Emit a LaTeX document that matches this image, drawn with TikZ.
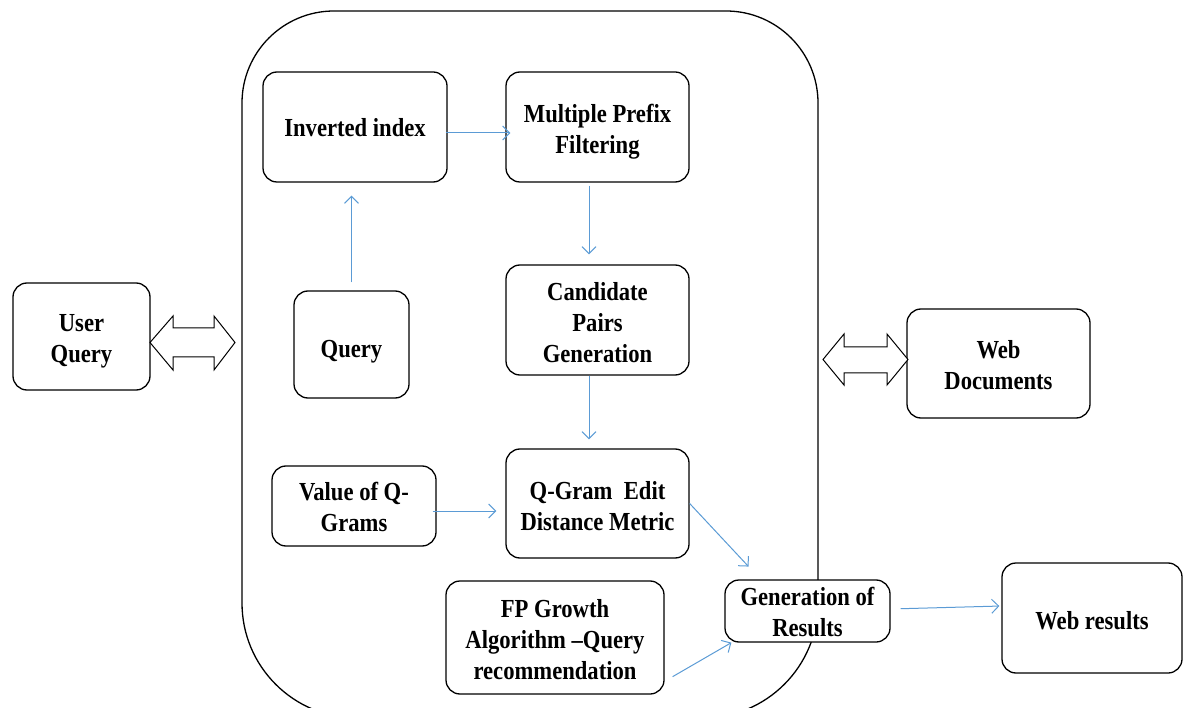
\documentclass[tikz,border=0pt]{standalone}
\usepackage{fontspec}
\setmainfont{Liberation Serif}[FakeStretch=0.87]
\usetikzlibrary{arrows.meta}
\definecolor{linkblue}{RGB}{91,155,213}
% strut on the first line, pushes the text down a little
\newcommand{\txtdrop}[1]{\rule{0pt}{#1}}

\begin{document}
\begin{tikzpicture}[x=1pt,y=-1pt,
    box/.style={draw, line width=1.3pt, fill=white, rounded corners=14pt, align=center,
      inner sep=0pt, font=\bfseries\fontsize{26}{31}\selectfont},
    link/.style={draw=linkblue, line width=1pt, -{Straight Barb[length=7pt,width=14pt]}},
    dblarrow/.style={draw, line width=1pt, fill=white}]
  \useasboundingbox (0,0) rectangle (1183,708);

  % outer frame
  \draw[line width=1.3pt] (242,380) [rounded corners=92pt] -- (242,11) -- (818,11) -- (818,380)
    [rounded corners=115pt] -- (818,718) -- (242,718) -- cycle;

  % boxes
  \node[box, minimum width=137, minimum height=107] (user) at (81.5,336.5) {\txtdrop{27pt}User\\Query};
  \node[box, minimum width=115, minimum height=107] (qry) at (351.5,344.5) {\txtdrop{32pt}Query};
  \node[box, minimum width=184, minimum height=110] (inv) at (355,127) {\txtdrop{19pt}Inverted index};
  \node[box, minimum width=183, minimum height=110] (mpf) at (597.5,127) {\txtdrop{28pt}Multiple Prefix\\Filtering};
  \node[box, minimum width=183, minimum height=110] (cpg) at (597.5,320) {\txtdrop{23pt}Candidate\\Pairs\\Generation};
  \node[box, minimum width=183, minimum height=109] (qgm) at (597.5,503.5) {\txtdrop{23pt}Q-Gram~ Edit\\Distance Metric};
  \node[box, minimum width=164, minimum height=80] (vqg) at (354,506) {\txtdrop{21pt}Value of Q-\\Grams};
  \node[box, minimum width=218, minimum height=113] (fpg) at (555,637.5) {\txtdrop{22pt}FP Growth\\Algorithm –Query\\recommendation};
  \node[box, minimum width=165, minimum height=62] (gen) at (807.5,611) {\txtdrop{21pt}Generation of\\Results};
  \node[box, minimum width=183, minimum height=109] (webd) at (998.5,363.5) {\txtdrop{22pt}Web\\Documents};
  \node[box, minimum width=180, minimum height=110] (webr) at (1092,618) {\txtdrop{24pt}Web results};

  % flow
  \draw[link, shorten <=8pt, shorten >=13pt] (qry.north) -- (qry.north |- inv.south);
  \draw[link, shorten <=-2pt, shorten >=-5pt] ([yshift=-6]inv.east) -- ([yshift=-6]mpf.west);
  \draw[link, shorten <=3pt, shorten >=10pt] ([xshift=-8.5]mpf.south) -- ([xshift=-8.5]cpg.north);
  \draw[link, shorten >=9pt] ([xshift=-8.5]cpg.south) -- ([xshift=-8.5]qgm.north);
  \draw[link, shorten <=-4pt, shorten >=9pt] ([yshift=-5]vqg.east) -- ([yshift=-5]vqg.east -| qgm.west);
  \draw[link, shorten >=17.5pt] (qgm.east) -- ([xshift=-47]gen.north);
  \draw[link] ([shift={(8,-18)}]fpg.south east) -- ([xshift=7]gen.south west);
  \draw[link, shorten <=10pt, shorten >=2pt] ([yshift=2]gen.east) -- ([yshift=12]webr.west);

  % double arrows
  \draw[dblarrow] (150,342.5) -- (173,316) -- (173,328) -- (214,328) -- (214,316) -- (235,342.5)
    -- (214,370) -- (214,357) -- (173,357) -- (173,370) -- cycle;
  \draw[dblarrow] (823,359.5) -- (844,334) -- (844,347) -- (887,347) -- (887,334) -- (908,359.5)
    -- (887,385) -- (887,373) -- (844,373) -- (844,385) -- cycle;
\end{tikzpicture}
\end{document}
